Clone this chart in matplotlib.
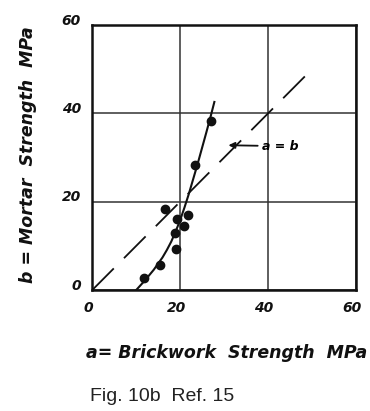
import matplotlib
matplotlib.use("Agg")
import matplotlib.pyplot as plt
import matplotlib.transforms as mtransforms

# measured points: brickwork strength a vs mortar strength b (MPa)
brick_a = [27.0, 23.4, 16.6, 21.7, 19.2, 20.8, 18.9, 19.1, 15.5, 11.7]
mortar_b = [38.3, 28.3, 18.3, 17.0, 16.1, 14.5, 13.0, 9.4, 5.8, 2.8]

# hand-drawn trend curve
curve_a = [10.0, 11.0, 12.0, 13.0, 14.0, 15.0, 16.0, 17.0, 18.0, 19.0, 20.0,
           21.0, 22.0, 23.0, 24.0, 25.0, 26.0, 27.0, 27.8]
curve_b = [0.0, 1.1, 2.2, 3.4, 4.6, 6.0, 7.4, 9.1, 11.0, 13.3, 15.8,
           18.7, 21.8, 25.2, 28.6, 32.2, 35.8, 39.5, 42.6]

# a = b reference line
equal_a = [0, 49]
equal_b = [0, 49]

ticks = [0, 20, 40, 60]

fig = plt.figure(figsize=(3.70, 4.11), dpi=100)
ax = fig.add_axes([0.249, 0.294, 0.713, 0.645])

ax.plot(equal_a, equal_b, color="#111111", lw=1.3, linestyle=(0, (17, 8)))
ax.plot(curve_a, curve_b, color="#111111", lw=1.5)
ax.plot(brick_a, mortar_b, "o", color="#111111", ms=6)

ax.annotate("a = b", xy=(31.0, 32.8), xytext=(38.6, 32.6),
            fontsize=9, fontstyle="italic", fontweight="bold", va="center",
            arrowprops=dict(arrowstyle="-|>", color="#111111", lw=1.3,
                            shrinkA=1, shrinkB=0))

ax.set_xlim(0, 60)
ax.set_ylim(0, 60)
ax.set_xticks(ticks)
ax.set_yticks(ticks)
ax.set_xticklabels([str(t) for t in ticks], fontstyle="italic", fontweight="bold", fontsize=10)
ax.set_yticklabels([str(t) for t in ticks], fontstyle="italic", fontweight="bold", fontsize=10)
ax.tick_params(length=0, pad=8, colors="#111111")
ax.grid(True, color="#333333", lw=1.1)
for sp in ax.spines.values():
    sp.set_linewidth(1.8)
    sp.set_color("#111111")

# nudge tick labels like in the scanned figure
dx = mtransforms.ScaledTranslation(-4 / 100, 0, fig.dpi_scale_trans)
for lab in ax.get_xticklabels():
    lab.set_transform(lab.get_transform() + dx)
dy = mtransforms.ScaledTranslation(0, 6 / 100, fig.dpi_scale_trans)
for lab in ax.get_yticklabels():
    lab.set_transform(lab.get_transform() + dy)

fig.text(227 / 370, 1 - 353 / 411, "a= Brickwork  Strength  MPa", ha="center", va="center",
         fontsize=12.5, fontstyle="italic", fontweight="bold", color="#111111")
fig.text(28 / 370, 1 - 155 / 411, "b = Mortar  Strength  MPa", ha="center", va="center",
         rotation=90, fontsize=12.5, fontstyle="italic", fontweight="bold", color="#111111")
fig.text(90 / 370, 1 - 396 / 411, "Fig. 10b  Ref. 15", ha="left", va="center",
         fontsize=14, family="Liberation Sans", color="#222222")

fig.savefig("out.png", dpi=100)
